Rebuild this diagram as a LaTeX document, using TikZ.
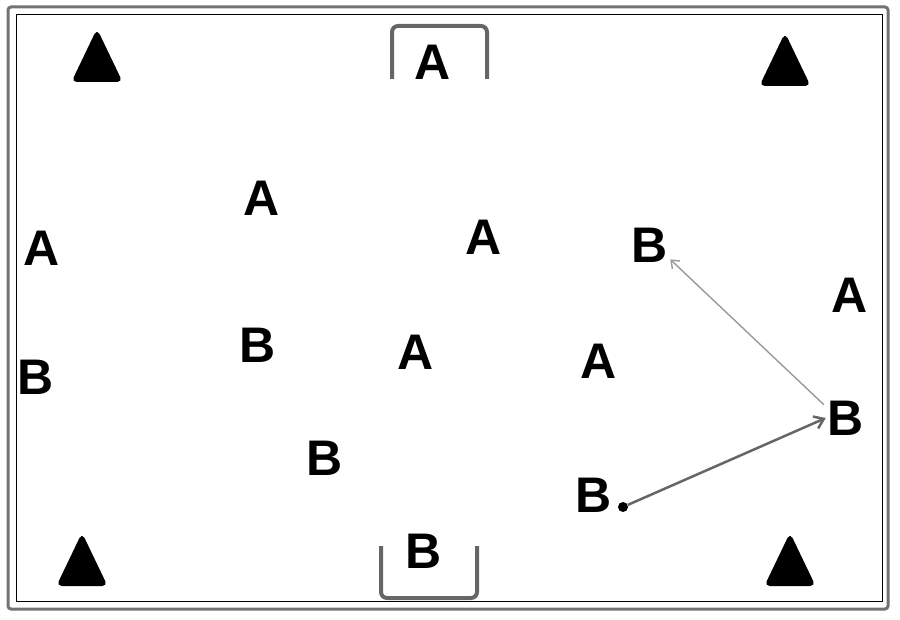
\documentclass[tikz,border=0pt]{standalone}
\usepackage{fontspec}
\setmainfont{Liberation Sans}
\usetikzlibrary{arrows.meta}
\begin{document}
\begin{tikzpicture}[x=1pt, y=-1pt,
    player/.style={font=\fontsize{50}{50}\selectfont\bfseries, inner sep=0pt},
    cone/.style={fill=black, draw=black, line width=2pt, rounded corners=4pt},
    goalpost/.style={draw=black!60, line width=4pt, rounded corners=6pt},
    pass/.style={draw=black!60, line width=2.5pt, -{Straight Barb[length=9pt, width=13pt]}},
    run/.style={draw=black!40, line width=1.4pt, -{Straight Barb[length=7pt, width=11pt]}}]
    \useasboundingbox (0,0) rectangle (900,620);
    % pitch
    \draw[draw=black!55, line width=3pt, rounded corners=3pt] (8,7) rectangle (888,609);
    \draw[line width=1pt] (16,15) rectangle (882,601);
    % goals
    \draw[goalpost] (392,79) -- (392,26) -- (487,26) -- (487,79);
    \draw[goalpost] (381,546) -- (381,598) -- (477,598) -- (477,546);
    % corner cones
    \foreach \cx/\cy in {97/56, 785/60, 82/560, 790/560}
        \draw[cone] (\cx-24,\cy+25) -- (\cx,\cy-25) -- (\cx+24,\cy+25) -- cycle;
    % players
    \node[player] (a1) at (433,62) {A};
    \node[player] (a2) at (262,198) {A};
    \node[player] (a3) at (42,248) {A};
    \node[player] (a4) at (484,237) {A};
    \node[player] (a5) at (850,295) {A};
    \node[player] (a6) at (416,352) {A};
    \node[player] (a7) at (599,361) {A};
    \node[player] (b1) at (650,245) {B};
    \node[player] (b2) at (258,345) {B};
    \node[player] (b3) at (36,377) {B};
    \node[player] (b4) at (846,418) {B};
    \node[player] (b5) at (325,458) {B};
    \node[player] (b6) at (594,495) {B};
    \node[player] (b7) at (424,551) {B};
    \node[circle, fill=black, inner sep=0pt, minimum size=10pt] (ball) at (623,507) {};
    % moves
    \draw[pass] (ball) -- ([xshift=-2pt]b4.west);
    \draw[run] ([shift={(-4pt,-4pt)}]b4.north west) -- ([shift={(2pt,3pt)}]b1.south east);
\end{tikzpicture}
\end{document}
